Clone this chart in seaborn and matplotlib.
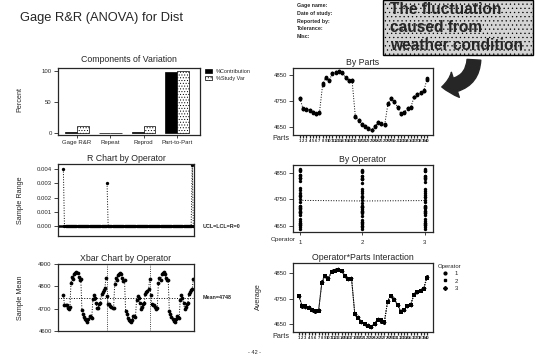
import numpy as np
import pandas as pd
import matplotlib as mpl
import seaborn as sns
from matplotlib import pyplot as plt
from matplotlib.patches import Rectangle, FancyArrowPatch, Patch
from matplotlib.lines import Line2D

sns.set_style("ticks")
plt.rcParams['font.family'] = ['Liberation Sans', 'DejaVu Sans']
mpl.rcParams['hatch.linewidth'] = 0.4
mpl.rcParams['axes.linewidth'] = 0.9
mpl.rcParams['xtick.major.width'] = 0.6
mpl.rcParams['ytick.major.width'] = 0.6
mpl.rcParams['xtick.major.size'] = 2.5
mpl.rcParams['ytick.major.size'] = 3
mpl.rcParams['xtick.labelsize'] = 4.3
mpl.rcParams['ytick.labelsize'] = 4.3

# --- data ---
components = ["Gage R&R", "Repeat", "Reprod", "Part-to-Part"]
pct_contribution = [1.5, 0.2, 1.3, 98.5]
pct_study_var = [12.0, 0.6, 11.5, 99.5]

parts = list(range(1, 41))
operators = [1, 2, 3]

mean_op1 = [4762, 4718, 4716, 4714, 4704, 4698, 4706, 4818, 4842, 4832,
            4858, 4862, 4866, 4860, 4842, 4830, 4832, 4692, 4676, 4662,
            4652, 4646, 4640, 4654, 4668, 4660, 4656, 4742, 4762, 4750,
            4726, 4702, 4704, 4722, 4726, 4766, 4776, 4784, 4792, 4838]
mean_op2 = [4758, 4722, 4720, 4712, 4706, 4702, 4702, 4812, 4838, 4828,
            4854, 4858, 4862, 4856, 4838, 4826, 4828, 4688, 4674, 4658,
            4650, 4644, 4638, 4650, 4666, 4664, 4660, 4738, 4758, 4746,
            4724, 4698, 4706, 4720, 4724, 4764, 4774, 4780, 4788, 4832]
mean_op3 = [4760, 4720, 4718, 4716, 4706, 4700, 4704, 4816, 4840, 4830,
            4856, 4860, 4864, 4858, 4840, 4828, 4830, 4690, 4676, 4660,
            4652, 4645, 4640, 4652, 4668, 4662, 4658, 4740, 4760, 4748,
            4726, 4700, 4706, 4722, 4726, 4766, 4776, 4782, 4790, 4836]

range_op1 = [0.004, 0, 0, 0, 0, 0, 0, 0, 0, 0, 0, 0, 0, 0, 0, 0, 0, 0, 0, 0,
             0, 0, 0, 0, 0, 0, 0, 0, 0, 0, 0, 0, 0, 0, 0, 0, 0, 0, 0, 0]
range_op2 = [0.003, 0, 0, 0, 0, 0, 0, 0, 0, 0, 0, 0, 0, 0, 0, 0, 0, 0, 0, 0,
             0, 0, 0, 0, 0, 0, 0, 0, 0, 0, 0, 0, 0, 0, 0, 0, 0, 0, 0, 0]
range_op3 = [0, 0, 0, 0, 0, 0, 0, 0, 0, 0, 0, 0, 0, 0, 0, 0, 0, 0, 0, 0,
             0, 0, 0, 0, 0, 0, 0, 0, 0, 0, 0, 0, 0, 0, 0, 0, 0, 0, 0.0043, 0]

grand_mean = 4748
info_lines = ["Gage name:", "Date of study:", "Reported by:", "Tolerance:", "Misc:"]
note_lines = ["The fluctuation", "caused from", "weather condition"]

# long table
rows = []
for k, (op, m, r) in enumerate(zip(operators, [mean_op1, mean_op2, mean_op3],
                                   [range_op1, range_op2, range_op3])):
    for i, p in enumerate(parts):
        rows.append({"Operator": op, "Part": p, "Mean": m[i], "Range": r[i],
                     "Idx": k * len(parts) + i})
df = pd.DataFrame(rows)

W, H = 535, 356
fig = plt.figure(figsize=(W / 100, H / 100), dpi=100)

def box(left, top, right, bottom):
    return [left / W, 1 - bottom / H, (right - left) / W, (bottom - top) / H]

def fx(px):
    return px / W

def fy(py):
    return 1 - py / H

title_fs = 6.3
lab_fs = 5.2

# ---------- Components of Variation ----------
ax1 = fig.add_axes(box(58, 68, 200, 135))
comp_df = pd.DataFrame({"Source": components * 2,
                        "Percent": pct_contribution + pct_study_var,
                        "Kind": ["%Contribution"] * 4 + ["%Study Var"] * 4})
sns.barplot(data=comp_df, x="Source", y="Percent", hue="Kind",
            palette=["black", "white"], edgecolor="black", linewidth=0.5,
            width=0.7, ax=ax1, legend=False)
for bar in ax1.containers[1]:
    bar.set_hatch("......")
ax1.set_xlim(-0.57, 3.69)
ax1.set_ylim(-3, 105)
ax1.set_yticks([0, 50, 100])
ax1.set_xlabel("")
ax1.set_ylabel("")
ax1.set_title("Components of Variation", fontsize=title_fs, pad=4)
ax1.tick_params(axis="x", length=2, pad=1.5, labelsize=4.3)
ax1.legend(handles=[Patch(fc="black", ec="black", lw=0.5),
                    Patch(fc="white", ec="black", lw=0.5, hatch="......")],
           labels=["%Contribution", "%Study Var"], loc="upper left",
           bbox_to_anchor=(1.02, 1.02), frameon=False, fontsize=4,
           handlelength=1.2, handleheight=0.7, handletextpad=0.8,
           labelspacing=0.4, borderaxespad=0)

# ---------- R chart ----------
ax2 = fig.add_axes(box(58, 164, 194, 236))
sns.lineplot(data=df, x="Idx", y="Range", units="Operator", estimator=None,
             color="black", linestyle=":", lw=0.7, marker="o", markersize=2.4,
             markeredgewidth=0, ax=ax2)
ax2.axhline(0, color="black", lw=1.8)
ax2.set_xlim(-4.9, 119.6)
ax2.set_ylim(-0.0007, 0.00435)
ax2.set_yticks([0, 0.001, 0.002, 0.003, 0.004])
ax2.set_yticklabels(["0.000", "0.001", "0.002", "0.003", "0.004"])
ax2.set_xticks([])
ax2.set_xlabel("")
ax2.set_ylabel("")
ax2.set_title("R Chart by Operator", fontsize=title_fs, pad=2)
ax2.text(1.06, 0, "UCL=LCL=R=0", transform=ax2.get_yaxis_transform(),
         fontsize=3.9, va="center", ha="left", fontweight="bold", clip_on=False)

# ---------- Xbar chart ----------
ax3 = fig.add_axes(box(58, 264, 194, 331))
sns.lineplot(data=df, x="Idx", y="Mean", units="Operator", estimator=None,
             color="black", linestyle=":", lw=0.7, marker="o", markersize=2.7,
             markeredgewidth=0, ax=ax3)
ax3.axhline(grand_mean, color="black", lw=0.7, ls=":")
for b in [len(parts) - 0.5, 2 * len(parts) - 0.5]:
    ax3.axvline(b, color="black", lw=0.6, ls=":")
ax3.set_xlim(-4.9, 119.6)
ax3.set_ylim(4598, 4902)
ax3.set_yticks([4600, 4700, 4800, 4900])
ax3.set_xticks([])
ax3.set_xlabel("")
ax3.set_ylabel("")
ax3.set_title("Xbar Chart by Operator", fontsize=title_fs, pad=2)
ax3.text(1.06, grand_mean, "Mean=4748", transform=ax3.get_yaxis_transform(),
         fontsize=3.9, va="center", ha="left", fontweight="bold", clip_on=False)

# ---------- By Parts ----------
ax4 = fig.add_axes(box(293, 68, 433, 135))
sns.lineplot(data=df, x="Part", y="Mean", estimator="mean", errorbar=None,
             color="black", linestyle=":", lw=0.7, ax=ax4)
sns.scatterplot(data=df, x="Part", y="Mean", color="black", s=7,
                linewidth=0, ax=ax4)
ax4.set_xlim(-1.1, 41.8)
ax4.set_ylim(4619, 4877)
ax4.set_yticks([4650, 4750, 4850])
ax4.set_xticks(parts)
ax4.set_xticklabels([str(p) for p in parts], fontsize=3.0, fontweight="bold")
ax4.tick_params(axis="x", length=2, pad=1, width=0.9)
ax4.set_xlabel("")
ax4.set_ylabel("")
ax4.set_title("By Parts", fontsize=title_fs, pad=2)

# ---------- By Operator ----------
ax5 = fig.add_axes(box(293, 165, 433, 232))
sns.lineplot(data=df, x="Operator", y="Mean", estimator="mean", errorbar=None,
             color="black", linestyle=":", lw=0.7, ax=ax5)
sns.scatterplot(data=df, x="Operator", y="Mean", color="black", s=6,
                linewidth=0, ax=ax5)
ax5.set_xlim(0.89, 3.13)
ax5.set_ylim(4627, 4880)
ax5.set_yticks([4650, 4750, 4850])
ax5.set_xticks(operators)
ax5.set_xlabel("")
ax5.set_ylabel("")
ax5.set_title("By Operator", fontsize=title_fs, pad=2)

# ---------- Interaction ----------
ax6 = fig.add_axes(box(293, 263, 433, 332))
mk = {1: "o", 2: "s", 3: "D"}
sns.lineplot(data=df, x="Part", y="Mean", hue="Operator", style="Operator",
             palette=["black"] * 3, markers=mk, dashes=[(1, 1.5)] * 3,
             lw=0.7, markersize=2.2, markeredgewidth=0, ax=ax6, legend=False)
ax6.set_xlim(-0.8, 41.8)
ax6.set_ylim(4619, 4889)
ax6.set_yticks([4650, 4750, 4850])
ax6.set_xticks(parts)
ax6.set_xticklabels([str(p) for p in parts], fontsize=3.0, fontweight="bold")
ax6.tick_params(axis="x", length=2, pad=1, width=0.9)
ax6.set_xlabel("")
ax6.set_ylabel("")
ax6.set_title("Operator*Parts Interaction", fontsize=title_fs, pad=2)
ax6.legend(handles=[Line2D([], [], ls="", marker=mk[o], color="black", ms=2)
                    for o in operators],
           labels=[str(o) for o in operators], title="Operator",
           title_fontsize=4.3, fontsize=4.3, loc="upper left",
           bbox_to_anchor=(1.02, 1.02), frameon=False, handlelength=1,
           handletextpad=1.2, labelspacing=0.35, borderaxespad=0)

for ax in [ax1, ax2, ax3, ax4, ax5, ax6]:
    for s in ax.spines.values():
        s.set_visible(True)
    ax.tick_params(axis="y", pad=1.5)

# ---------- axis labels & page text ----------
fig.text(fx(20), fy(100), "Percent", rotation=90, fontsize=lab_fs, va="center", ha="center")
fig.text(fx(20), fy(200), "Sample Range", rotation=90, fontsize=lab_fs, va="center", ha="center")
fig.text(fx(20), fy(298), "Sample Mean", rotation=90, fontsize=lab_fs, va="center", ha="center")
fig.text(fx(258), fy(297), "Average", rotation=90, fontsize=lab_fs, va="center", ha="center")
fig.text(fx(272), fy(139), "Parts", fontsize=lab_fs, va="center", ha="left")
fig.text(fx(271), fy(239), "Operator", fontsize=4.6, va="center", ha="left")
fig.text(fx(272), fy(337), "Parts", fontsize=lab_fs, va="center", ha="left")
fig.text(fx(248), fy(352), "- 42 -", fontsize=4, va="center", ha="left")

fig.text(fx(20), fy(18), "Gage R&R (ANOVA) for Dist", fontsize=9.3, va="center", ha="left")
for i, line in enumerate(info_lines):
    fig.text(fx(297), fy(5 + 8 * i), line, fontsize=3.8, fontweight="bold",
             va="center", ha="left")

# note box
fig.patches.append(Rectangle((fx(383), fy(55)), fx(533) - fx(383), fy(0) - fy(55),
                             transform=fig.transFigure, fc="#d4d4d4", ec="black",
                             lw=1.0, hatch="....", zorder=5))
for i, line in enumerate(note_lines):
    fig.text(fx(390), fy(10 + 18 * i), line, fontsize=11.2, fontweight="bold",
             va="center", ha="left", zorder=6)

# curved arrow
fig.patches.append(FancyArrowPatch((fx(474), fy(57)), (fx(439), fy(87)),
                                   transform=fig.transFigure,
                                   connectionstyle="angle3,angleA=90,angleB=0",
                                   arrowstyle="simple,head_length=1.1,head_width=2.1,tail_width=1.1",
                                   mutation_scale=9, fc="#262626", ec="#262626", zorder=5))

fig.savefig("out.png", dpi=100)
